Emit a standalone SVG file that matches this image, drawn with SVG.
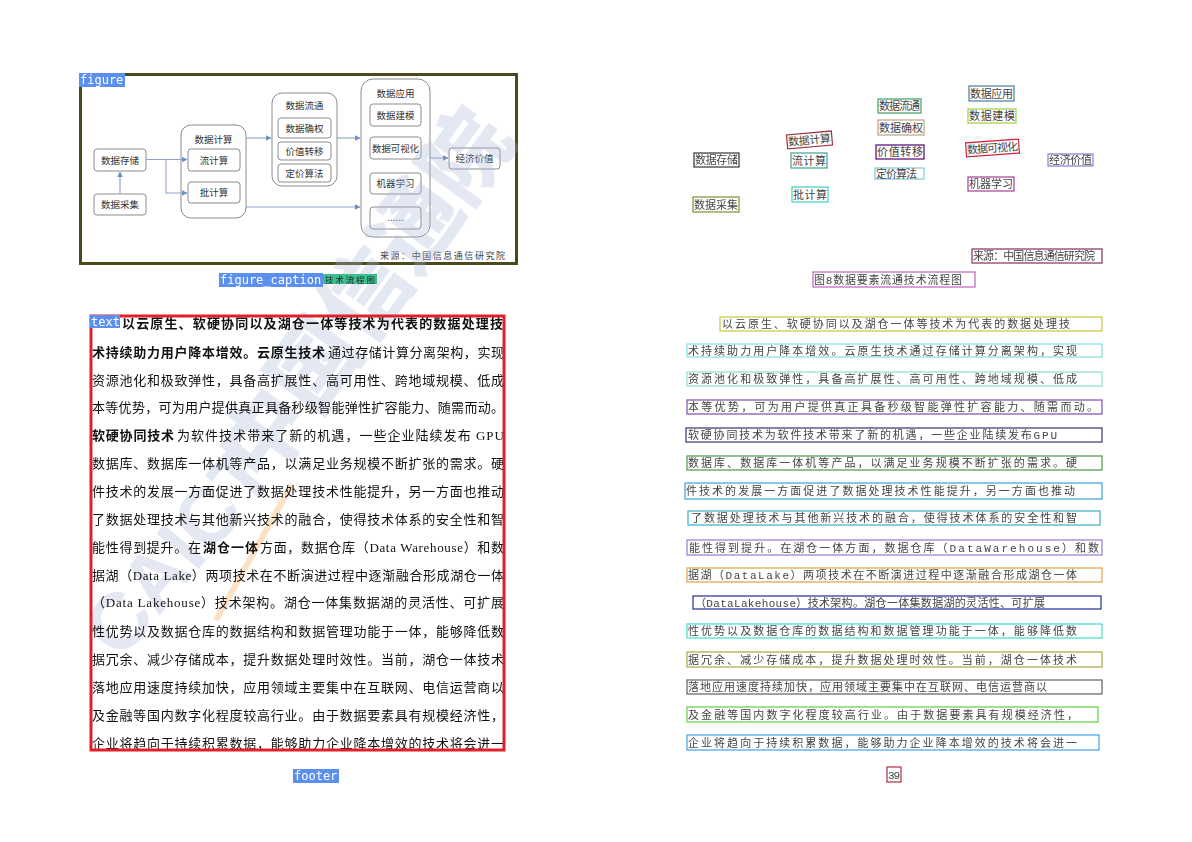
<svg xmlns="http://www.w3.org/2000/svg" width="1192" height="842" viewBox="0 0 1192 842">
<style>
.lbl{fill:#5b8ff0}
.lbltx{font-family:"DejaVu Sans Mono","Liberation Mono",monospace;font-size:12px;fill:#fff}
.fn{fill:#fff;stroke:#8c8c8c;stroke-width:1}
.ft{font-family:"Noto Sans CJK SC",sans-serif;font-size:9.5px;fill:#333;text-anchor:middle}
.conn{fill:none;stroke:#8aa2c8;stroke-width:1.1}
.body{font-family:"Liberation Serif","Noto Sans CJK SC",serif;font-size:13px;fill:#111}
.b{font-weight:700}
.ocr{fill:none;stroke-width:1.2}
.ot{font-family:"Liberation Mono","Noto Sans CJK SC",monospace;font-size:11px;fill:#444}
</style>
<defs>
<marker id="ah" viewBox="0 0 6 6" refX="5.5" refY="3" markerWidth="5" markerHeight="5" orient="auto">
<path d="M0 0 L6 3 L0 6 z" fill="#6f8fc0"/>
</marker>
</defs>
<rect width="1192" height="842" fill="#fff"/>

<!-- LEFT PAGE : figure -->
<g id="figure">
<rect x="80.5" y="74.5" width="436" height="189" fill="#fff" stroke="#4a4a1c" stroke-width="3"/>
<g id="n-store"><rect class="fn" x="94" y="149" width="52" height="22" rx="3"/><text class="ft" x="120" y="163.5">数据存储</text></g>
<g id="n-collect"><rect class="fn" x="94" y="194" width="52" height="21" rx="3"/><text class="ft" x="120" y="208">数据采集</text></g>
<g id="n-compute"><rect class="fn" x="181" y="125" width="65" height="93" rx="10"/><text class="ft" x="213.5" y="142.5">数据计算</text></g>
<g id="n-stream"><rect class="fn" x="188" y="149" width="52" height="22" rx="3"/><text class="ft" x="214" y="163.5">流计算</text></g>
<g id="n-batch"><rect class="fn" x="188" y="182" width="52" height="21" rx="3"/><text class="ft" x="214" y="196">批计算</text></g>
<g id="n-circ"><rect class="fn" x="272" y="93" width="65" height="93" rx="10"/><text class="ft" x="304.5" y="108.5">数据流通</text></g>
<g id="n-right"><rect class="fn" x="278" y="118" width="53" height="20" rx="3"/><text class="ft" x="304.5" y="131.5">数据确权</text></g>
<g id="n-transfer"><rect class="fn" x="278" y="142" width="53" height="18" rx="3"/><text class="ft" x="304.5" y="154.5">价值转移</text></g>
<g id="n-price"><rect class="fn" x="278" y="164" width="53" height="18" rx="3"/><text class="ft" x="304.5" y="176.5">定价算法</text></g>
<g id="n-app"><rect class="fn" x="361" y="79" width="69" height="158" rx="12"/><text class="ft" x="395.5" y="96.5">数据应用</text></g>
<g id="n-model"><rect class="fn" x="370" y="104" width="51" height="22" rx="3"/><text class="ft" x="395.5" y="118.5">数据建模</text></g>
<g id="n-vis"><rect class="fn" x="370" y="137" width="51" height="22" rx="3"/><text class="ft" x="395.5" y="151.5" textLength="47" lengthAdjust="spacingAndGlyphs">数据可视化</text></g>
<g id="n-ml"><rect class="fn" x="370" y="173" width="51" height="21" rx="3"/><text class="ft" x="395.5" y="187">机器学习</text></g>
<g id="n-more"><rect class="fn" x="370" y="207" width="51" height="22" rx="3"/><text class="ft" x="395.5" y="221">......</text></g>
<g id="n-econ"><rect class="fn" x="449" y="148" width="51" height="21" rx="3"/><text class="ft" x="474.5" y="162">经济价值</text></g>
<text x="380" y="259" font-family="Noto Sans CJK SC,sans-serif" font-size="9" fill="#444" textLength="125" lengthAdjust="spacing">来源：中国信息通信研究院</text>
</g>

<g id="connectors">
<path class="conn" d="M146 159.5 H187" marker-end="url(#ah)"/>
<path class="conn" d="M166 159.5 V193 H187" marker-end="url(#ah)"/>
<path class="conn" d="M120 194 V172" marker-end="url(#ah)"/>
<path class="conn" d="M246 138 H271" marker-end="url(#ah)"/>
<path class="conn" d="M246 207 H360" marker-end="url(#ah)"/>
<path class="conn" d="M337 138 H360" marker-end="url(#ah)"/>
<path class="conn" d="M430 158 H448" marker-end="url(#ah)"/>
</g>

<!-- watermark (behind page text) -->
<g id="watermark" opacity="0.32">
<text x="365" y="326" transform="rotate(-54 365 295)" font-family="Noto Sans CJK SC,sans-serif" font-weight="900" font-size="88" fill="#a9b6d6" text-anchor="middle" textLength="430" lengthAdjust="spacingAndGlyphs">中国信通院</text>
<text x="178" y="578" transform="rotate(-50 178 550)" font-family="Liberation Sans,sans-serif" font-weight="700" font-size="80" fill="#a9b6d6" text-anchor="middle">CAICT</text>
<path d="M292 484 L216 620" stroke="#f5a04a" stroke-width="6" fill="none"/>
</g>

<!-- LEFT PAGE : body text -->
<g id="body-text">
<text class="body b" x="122" y="328" textLength="381" lengthAdjust="spacing">以云原生、软硬协同以及湖仓一体等技术为代表的数据处理技</text>
<text class="body b" x="92" y="356.5" textLength="233" lengthAdjust="spacing">术持续助力用户降本增效。云原生技术</text>
<text class="body" x="328" y="356.5" textLength="176" lengthAdjust="spacing">通过存储计算分离架构，实现</text>
<text class="body" x="92" y="385" textLength="412" lengthAdjust="spacing">资源池化和极致弹性，具备高扩展性、高可用性、跨地域规模、低成</text>
<text class="body" x="92" y="412" textLength="412" lengthAdjust="spacing">本等优势，可为用户提供真正具备秒级智能弹性扩容能力、随需而动。</text>
<text class="body b" x="92" y="440" textLength="82" lengthAdjust="spacing">软硬协同技术</text>
<text class="body" x="177" y="440" textLength="327" lengthAdjust="spacing">为软件技术带来了新的机遇，一些企业陆续发布 GPU</text>
<text class="body" x="92" y="467.5" textLength="412" lengthAdjust="spacing">数据库、数据库一体机等产品，以满足业务规模不断扩张的需求。硬</text>
<text class="body" x="92" y="496" textLength="412" lengthAdjust="spacing">件技术的发展一方面促进了数据处理技术性能提升，另一方面也推动</text>
<text class="body" x="92" y="524" textLength="412" lengthAdjust="spacing">了数据处理技术与其他新兴技术的融合，使得技术体系的安全性和智</text>
<text class="body" x="92" y="552" textLength="109" lengthAdjust="spacing">能性得到提升。在</text>
<text class="body b" x="203" y="552" textLength="55" lengthAdjust="spacing">湖仓一体</text>
<text class="body" x="260" y="552" textLength="244" lengthAdjust="spacing">方面，数据仓库（Data Warehouse）和数</text>
<text class="body" x="92" y="580" textLength="412" lengthAdjust="spacing">据湖（Data Lake）两项技术在不断演进过程中逐渐融合形成湖仓一体</text>
<text class="body" x="92" y="607" textLength="412" lengthAdjust="spacing">（Data Lakehouse）技术架构。湖仓一体集数据湖的灵活性、可扩展</text>
<text class="body" x="92" y="635.5" textLength="412" lengthAdjust="spacing">性优势以及数据仓库的数据结构和数据管理功能于一体，能够降低数</text>
<text class="body" x="92" y="663.5" textLength="412" lengthAdjust="spacing">据冗余、减少存储成本，提升数据处理时效性。当前，湖仓一体技术</text>
<text class="body" x="92" y="692" textLength="412" lengthAdjust="spacing">落地应用速度持续加快，应用领域主要集中在互联网、电信运营商以</text>
<text class="body" x="92" y="720" textLength="412" lengthAdjust="spacing">及金融等国内数字化程度较高行业。由于数据要素具有规模经济性，</text>
<text class="body" x="92" y="748" textLength="412" lengthAdjust="spacing">企业将趋向于持续积累数据，能够助力企业降本增效的技术将会进一</text>
</g>

<!-- LEFT PAGE : layout annotations -->
<g id="annotations">
<g id="lbl-figure"><rect class="lbl" x="79" y="73" width="46" height="14"/><text class="lbltx" x="80" y="84">figure</text></g>
<g id="lbl-caption"><rect class="lbl" x="219" y="273" width="104" height="14"/><text class="lbltx" x="220" y="283.5">figure_caption</text>
<rect x="323" y="274" width="54" height="10" fill="#3cbf8c"/><text x="325" y="282.5" font-family="Noto Sans CJK SC,sans-serif" font-size="8.5" fill="#223" textLength="50" lengthAdjust="spacing">技术流程图</text></g>
<g id="box-text"><rect x="91" y="316" width="413" height="434" fill="none" stroke="#e0202c" stroke-width="3"/>
<rect class="lbl" x="90" y="315" width="30" height="13"/><text class="lbltx" x="91" y="325.5" font-size="10">text</text></g>
<g id="lbl-footer"><rect class="lbl" x="293" y="769" width="46" height="14"/><text class="lbltx" x="294" y="780">footer</text></g>
</g>

<!-- RIGHT PAGE : OCR boxes -->
<g id="ocr-figure">
<g><rect class="ocr" x="694" y="153" width="45" height="14" stroke="#333"/><text class="ot" x="695" y="164" textLength="43" lengthAdjust="spacing">数据存储</text></g>
<g><rect class="ocr" x="693" y="197" width="46" height="15" stroke="#8a8a30"/><text class="ot" x="694" y="208.5" textLength="44" lengthAdjust="spacing">数据采集</text></g>
<g transform="rotate(-5 809 140)"><rect class="ocr" x="787" y="133" width="45" height="14" stroke="#a03040"/><text class="ot" x="788" y="144" textLength="43" lengthAdjust="spacing">数据计算</text></g>
<g><rect class="ocr" x="791" y="153" width="36" height="15" stroke="#40a090"/><text class="ot" x="792" y="164.5" textLength="34" lengthAdjust="spacing">流计算</text></g>
<g><rect class="ocr" x="792" y="187" width="36" height="15" stroke="#40d0c0"/><text class="ot" x="793" y="198.5" textLength="34" lengthAdjust="spacing">批计算</text></g>
<g><rect class="ocr" x="878" y="99" width="43" height="14" stroke="#40a060"/><text class="ot" x="879" y="110" textLength="41" lengthAdjust="spacing">数据流通</text></g>
<g><rect class="ocr" x="878" y="120" width="46" height="15" stroke="#c0a080"/><text class="ot" x="879" y="131.5" textLength="44" lengthAdjust="spacing">数据确权</text></g>
<g><rect class="ocr" x="876" y="145" width="48" height="14" stroke="#500070"/><text class="ot" x="877" y="156" textLength="46" lengthAdjust="spacing">价值转移</text></g>
<g><rect class="ocr" x="875" y="168" width="49" height="11" stroke="#80c8d8"/><text class="ot" x="876" y="177.5" font-size="10" textLength="41" lengthAdjust="spacing">定价算法</text></g>
<g><rect class="ocr" x="969" y="86" width="45" height="15" stroke="#4080a0"/><text class="ot" x="970" y="97.5" textLength="43" lengthAdjust="spacing">数据应用</text></g>
<g><rect class="ocr" x="968" y="109" width="48" height="14" stroke="#a0d040"/><text class="ot" x="969" y="120" textLength="46" lengthAdjust="spacing">数据建模</text></g>
<g transform="rotate(-4 992 148)"><rect class="ocr" x="966" y="141" width="53" height="14" stroke="#d02030"/><text class="ot" x="967" y="152" textLength="51" lengthAdjust="spacing">数据可视化</text></g>
<g><rect class="ocr" x="968" y="177" width="46" height="14" stroke="#a04090"/><text class="ot" x="969" y="188" textLength="44" lengthAdjust="spacing">机器学习</text></g>
<g><rect class="ocr" x="1048" y="154" width="45" height="12" stroke="#8080d0"/><text class="ot" x="1049" y="164" font-size="10" textLength="43" lengthAdjust="spacing">经济价值</text></g>
<g><rect class="ocr" x="972" y="249" width="130" height="14" stroke="#803060"/><text class="ot" x="973" y="259.5" font-size="9" textLength="122" lengthAdjust="spacing">来源：中国信息通信研究院</text></g>
<g><rect class="ocr" x="813" y="272" width="162" height="15" stroke="#c060c0"/><text class="ot" x="814" y="283.5" textLength="148" lengthAdjust="spacing">图8数据要素流通技术流程图</text></g>
</g>

<g id="ocr-text">
<g><rect class="ocr" x="720" y="317" width="382" height="14" stroke="#c8c83c"/><text class="ot" x="722" y="328" textLength="348" lengthAdjust="spacing">以云原生、软硬协同以及湖仓一体等技术为代表的数据处理技</text></g>
<g><rect class="ocr" x="687" y="344" width="415" height="13" stroke="#80e0e0"/><text class="ot" x="688" y="354.5" textLength="389" lengthAdjust="spacing">术持续助力用户降本增效。云原生技术通过存储计算分离架构，实现</text></g>
<g><rect class="ocr" x="687" y="372" width="415" height="14" stroke="#90e0c8"/><text class="ot" x="688" y="383" textLength="389" lengthAdjust="spacing">资源池化和极致弹性，具备高扩展性、高可用性、跨地域规模、低成</text></g>
<g><rect class="ocr" x="687" y="400" width="415" height="14" stroke="#7b4fb0"/><text class="ot" x="688" y="411" textLength="410" lengthAdjust="spacing">本等优势，可为用户提供真正具备秒级智能弹性扩容能力、随需而动。</text></g>
<g><rect class="ocr" x="686" y="428" width="416" height="14" stroke="#3c2f6e"/><text class="ot" x="688" y="439" textLength="369" lengthAdjust="spacing">软硬协同技术为软件技术带来了新的机遇，一些企业陆续发布GPU</text></g>
<g><rect class="ocr" x="687" y="456" width="415" height="14" stroke="#4a9a48"/><text class="ot" x="688" y="467" textLength="389" lengthAdjust="spacing">数据库、数据库一体机等产品，以满足业务规模不断扩张的需求。硬</text></g>
<g><rect class="ocr" x="685" y="483" width="417" height="16" stroke="#3aa0d8"/><text class="ot" x="686" y="495" textLength="389" lengthAdjust="spacing">件技术的发展一方面促进了数据处理技术性能提升，另一方面也推动</text></g>
<g><rect class="ocr" x="688" y="511" width="412" height="14" stroke="#3ab0c8"/><text class="ot" x="691" y="522" textLength="386" lengthAdjust="spacing">了数据处理技术与其他新兴技术的融合，使得技术体系的安全性和智</text></g>
<g><rect class="ocr" x="687" y="540" width="415" height="15" stroke="#9a78d0"/><text class="ot" x="689" y="551.5" textLength="410" lengthAdjust="spacing">能性得到提升。在湖仓一体方面，数据仓库（DataWarehouse）和数</text></g>
<g><rect class="ocr" x="687" y="568" width="415" height="14" stroke="#e0a048"/><text class="ot" x="688" y="579" textLength="389" lengthAdjust="spacing">据湖（DataLake）两项技术在不断演进过程中逐渐融合形成湖仓一体</text></g>
<g><rect class="ocr" x="693" y="596" width="408" height="13" stroke="#1f2f98"/><text class="ot" x="695" y="606.5" textLength="350" lengthAdjust="spacing">（DataLakehouse）技术架构。湖仓一体集数据湖的灵活性、可扩展</text></g>
<g><rect class="ocr" x="687" y="624" width="415" height="14" stroke="#40e0c8"/><text class="ot" x="688" y="635" textLength="389" lengthAdjust="spacing">性优势以及数据仓库的数据结构和数据管理功能于一体，能够降低数</text></g>
<g><rect class="ocr" x="687" y="652" width="415" height="15" stroke="#a8a840"/><text class="ot" x="688" y="663.5" textLength="389" lengthAdjust="spacing">据冗余、减少存储成本，提升数据处理时效性。当前，湖仓一体技术</text></g>
<g><rect class="ocr" x="687" y="680" width="415" height="14" stroke="#606060"/><text class="ot" x="688" y="691" textLength="359" lengthAdjust="spacing">落地应用速度持续加快，应用领域主要集中在互联网、电信运营商以</text></g>
<g><rect class="ocr" x="687" y="707" width="411" height="15" stroke="#60d040"/><text class="ot" x="688" y="718.5" textLength="390" lengthAdjust="spacing">及金融等国内数字化程度较高行业。由于数据要素具有规模经济性，</text></g>
<g><rect class="ocr" x="687" y="735" width="412" height="15" stroke="#40a0e8"/><text class="ot" x="688" y="746.5" textLength="389" lengthAdjust="spacing">企业将趋向于持续积累数据，能够助力企业降本增效的技术将会进一</text></g>
<g><rect class="ocr" x="887" y="767" width="14" height="15" stroke="#b03040"/><text class="ot" x="888" y="778.5" textLength="12" lengthAdjust="spacing">39</text></g>
</g>
</svg>
